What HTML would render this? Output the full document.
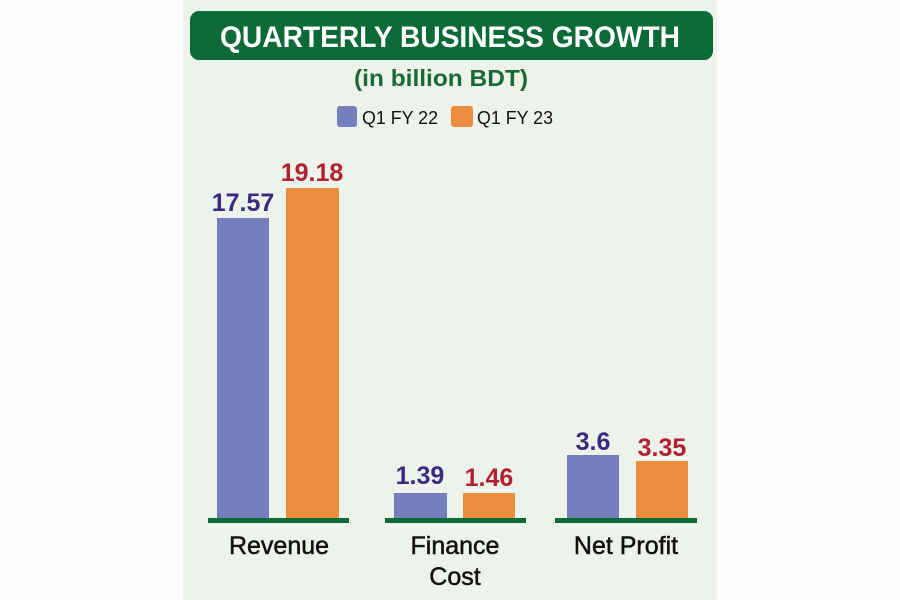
<!DOCTYPE html>
<html><head><meta charset="utf-8"><style>
html,body{margin:0;padding:0;background:#fdfdfb;}
svg{display:block;font-family:"Liberation Sans",sans-serif;}
</style></head><body>
<svg width="900" height="600" viewBox="0 0 900 600">
<rect x="0" y="0" width="900" height="600" fill="#fdfdfb"/>
<rect x="183" y="0" width="534" height="600" fill="#edf2ea"/>
<rect x="190" y="11" width="523" height="49" rx="9" fill="#0b6a35"/>
<text x="220" y="47" font-size="30" font-weight="bold" fill="#fff" textLength="460" lengthAdjust="spacingAndGlyphs">QUARTERLY BUSINESS GROWTH</text>
<text x="354" y="86" font-size="23" font-weight="bold" fill="#1a6a33" textLength="174" lengthAdjust="spacingAndGlyphs">(in billion BDT)</text>
<rect x="337" y="106" width="20" height="21" rx="3" fill="#7480bd"/>
<text x="362" y="124" font-size="18" fill="#111" textLength="76" lengthAdjust="spacingAndGlyphs">Q1 FY 22</text>
<rect x="451" y="106" width="22" height="21" rx="3" fill="#ec8c3e"/>
<text x="477" y="124" font-size="18" fill="#111" textLength="76" lengthAdjust="spacingAndGlyphs">Q1 FY 23</text>
<!-- Revenue -->
<rect x="217" y="218" width="52" height="302" fill="#7480bd"/>
<rect x="286" y="188" width="53" height="332" fill="#ec8c3e"/>
<rect x="208" y="518" width="141" height="5" fill="#0b6a35"/>
<text x="243" y="211" text-anchor="middle" font-size="25" font-weight="bold" fill="#3a2a80">17.57</text>
<text x="312" y="181" text-anchor="middle" font-size="25" font-weight="bold" fill="#b0202f">19.18</text>
<text x="279" y="554" text-anchor="middle" font-size="25" fill="#111" stroke="#111" stroke-width="0.5">Revenue</text>
<!-- Finance -->
<rect x="394" y="493" width="53" height="27" fill="#7480bd"/>
<rect x="463" y="493" width="52" height="27" fill="#ec8c3e"/>
<rect x="385" y="518" width="141" height="5" fill="#0b6a35"/>
<text x="420" y="484" text-anchor="middle" font-size="25" font-weight="bold" fill="#3a2a80">1.39</text>
<text x="489" y="486" text-anchor="middle" font-size="25" font-weight="bold" fill="#b0202f">1.46</text>
<text x="455" y="554" text-anchor="middle" font-size="25" fill="#111" stroke="#111" stroke-width="0.5">Finance</text>
<text x="455" y="585" text-anchor="middle" font-size="25" fill="#111" stroke="#111" stroke-width="0.5">Cost</text>
<!-- Net Profit -->
<rect x="567" y="455" width="52" height="65" fill="#7480bd"/>
<rect x="636" y="461" width="52" height="59" fill="#ec8c3e"/>
<rect x="555" y="518" width="142" height="5" fill="#0b6a35"/>
<text x="593" y="450" text-anchor="middle" font-size="25" font-weight="bold" fill="#3a2a80">3.6</text>
<text x="662" y="456" text-anchor="middle" font-size="25" font-weight="bold" fill="#b0202f">3.35</text>
<text x="626" y="554" text-anchor="middle" font-size="25" fill="#111" stroke="#111" stroke-width="0.5">Net Profit</text>
</svg>
</body></html>
